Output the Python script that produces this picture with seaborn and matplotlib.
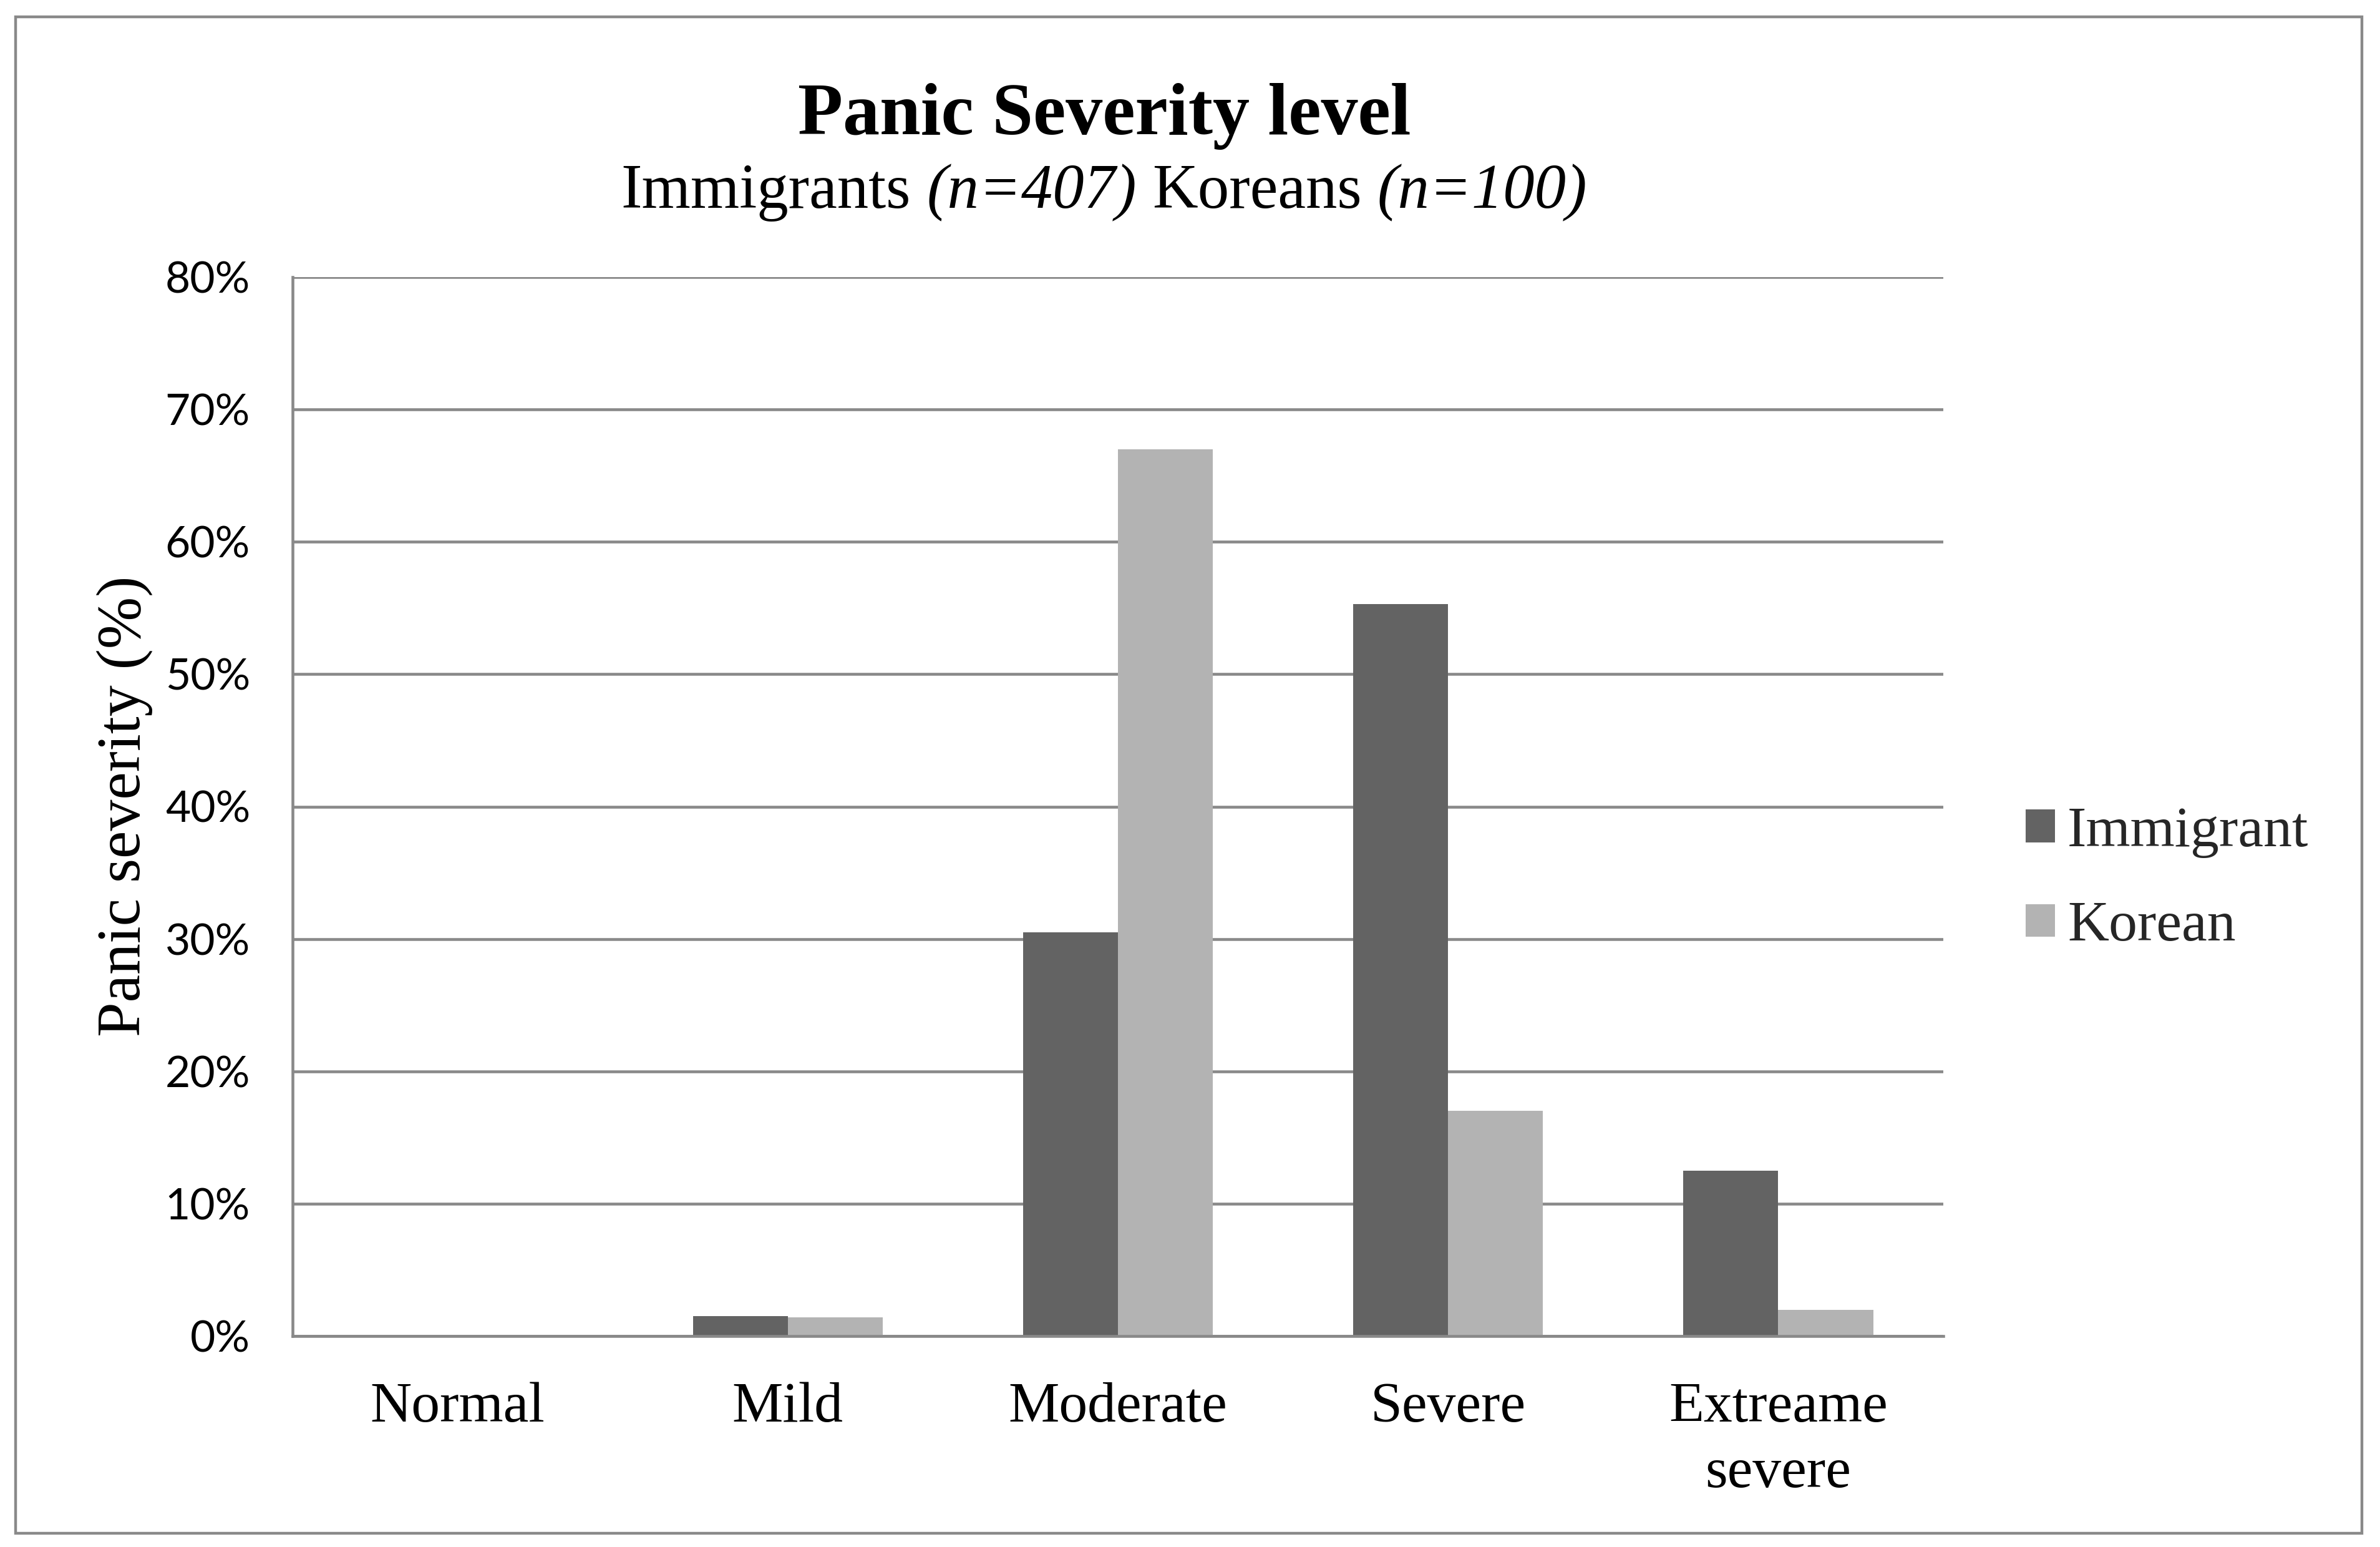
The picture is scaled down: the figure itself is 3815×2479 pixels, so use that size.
import numpy as np
import pandas as pd
import matplotlib
matplotlib.use("Agg")
import matplotlib.pyplot as plt
import seaborn as sns
from matplotlib.patches import Rectangle

# --------------------------------------------
# data (percent)
# --------------------------------------------
categories = ["Normal", "Mild", "Moderate", "Severe", "Extreame\nsevere"]
groups = ["Immigrant", "Korean"]
immigrant_pct = [0.0, 1.5, 30.5, 55.3, 12.5]
korean_pct = [0.0, 1.4, 67.0, 17.0, 2.0]
ytick_values = [0, 10, 20, 30, 40, 50, 60, 70, 80]
ytick_labels = ["0%", "10%", "20%", "30%", "40%", "50%", "60%", "70%", "80%"]

title = "Panic Severity level"
subtitle_parts = [("Immigrants", "normal"), ("(n=407)", "italic"),
                  ("Koreans", "normal"), ("(n=100)", "italic")]
ylabel = "Panic severity (%)"

colors = {"Immigrant": "#636363", "Korean": "#b3b3b3"}
GRID = "#898989"
SERIF = ["Liberation Serif", "DejaVu Serif"]
SANS = ["Lato", "DejaVu Sans"]

df = pd.DataFrame({
    "level": categories * 2,
    "group": [groups[0]] * len(categories) + [groups[1]] * len(categories),
    "pct": immigrant_pct + korean_pct,
})

sns.set_theme(style="white")
plt.rcParams["font.family"] = SERIF

W, H, DPI = 3815, 2479, 100
fig = plt.figure(figsize=(W / DPI, H / DPI), dpi=DPI)
fig.patch.set_facecolor("white")

# plot area in pixels: x 469..3115, y 444 (80%) .. 2141 (0%)
ax = fig.add_axes([469 / W, 1 - 2141 / H, (3115 - 469) / W, (2141 - 444) / H])

sns.barplot(data=df, x="level", y="pct", hue="group", order=categories,
            hue_order=groups, palette=colors, width=0.575, gap=0,
            errorbar=None, saturation=1, linewidth=0, ax=ax)

ax.set_xlim(-0.5, len(categories) - 0.5)
ax.set_ylim(0, 80)
ax.set_yticks(ytick_values)
ax.set_yticklabels(ytick_labels)
ax.set_xlabel("")
ax.set_ylabel("")

ax.yaxis.grid(True, color=GRID, linewidth=3.3)
ax.xaxis.grid(False)
ax.set_axisbelow(True)
for side in ["top", "right"]:
    ax.spines[side].set_visible(False)
for side in ["left", "bottom"]:
    ax.spines[side].set_color(GRID)
    ax.spines[side].set_linewidth(3.3)

ax.tick_params(axis="x", length=0, pad=53, labelsize=66, labelcolor="black")
ax.tick_params(axis="y", length=0, pad=49, labelsize=50, labelcolor="black",
               labelfontfamily=SANS)
for lbl in ax.get_xticklabels():
    lbl.set_linespacing(1.35)
    lbl.set_multialignment("center")

sns.move_legend(ax, "center left", bbox_to_anchor=(1.0499, 0.431), title=None,
                frameon=False, fontsize=66, handlelength=0.51, handleheight=0.51,
                handletextpad=0.22, labelspacing=0.75, borderpad=0, borderaxespad=0)

# titles
cx = 1770 / W
fig.text(cx, 1 - 215 / H, title, ha="center", va="baseline",
         fontsize=85, fontweight="bold", color="black")

renderer = fig.canvas.get_renderer()
sub_size = 72.5
probe = fig.text(0, 0, "I I", fontsize=sub_size)
w2 = probe.get_window_extent(renderer).width
probe.set_text("II")
space_w = w2 - probe.get_window_extent(renderer).width
probe.remove()

widths = []
for txt, style in subtitle_parts:
    t = fig.text(0, 0, txt, fontsize=sub_size, style=style)
    widths.append(t.get_window_extent(renderer).width)
    t.remove()
total = sum(widths) + space_w * (len(widths) - 1)
x = cx * W - total / 2
for (txt, style), w in zip(subtitle_parts, widths):
    fig.text(x / W, 1 - 333 / H, txt, ha="left", va="baseline",
             fontsize=sub_size, style=style, color="black")
    x += w + space_w

fig.text(200 / W, 1 - 1292 / H, ylabel, rotation=90, ha="center", va="center",
         fontsize=72, color="black")

# outer chart border
fig.add_artist(Rectangle((25 / W, 1 - 2457 / H), (3786 - 25) / W, (2457 - 27) / H,
                         transform=fig.transFigure, fill=False,
                         edgecolor=GRID, linewidth=3.2))

fig.savefig("out.png", dpi=DPI)
